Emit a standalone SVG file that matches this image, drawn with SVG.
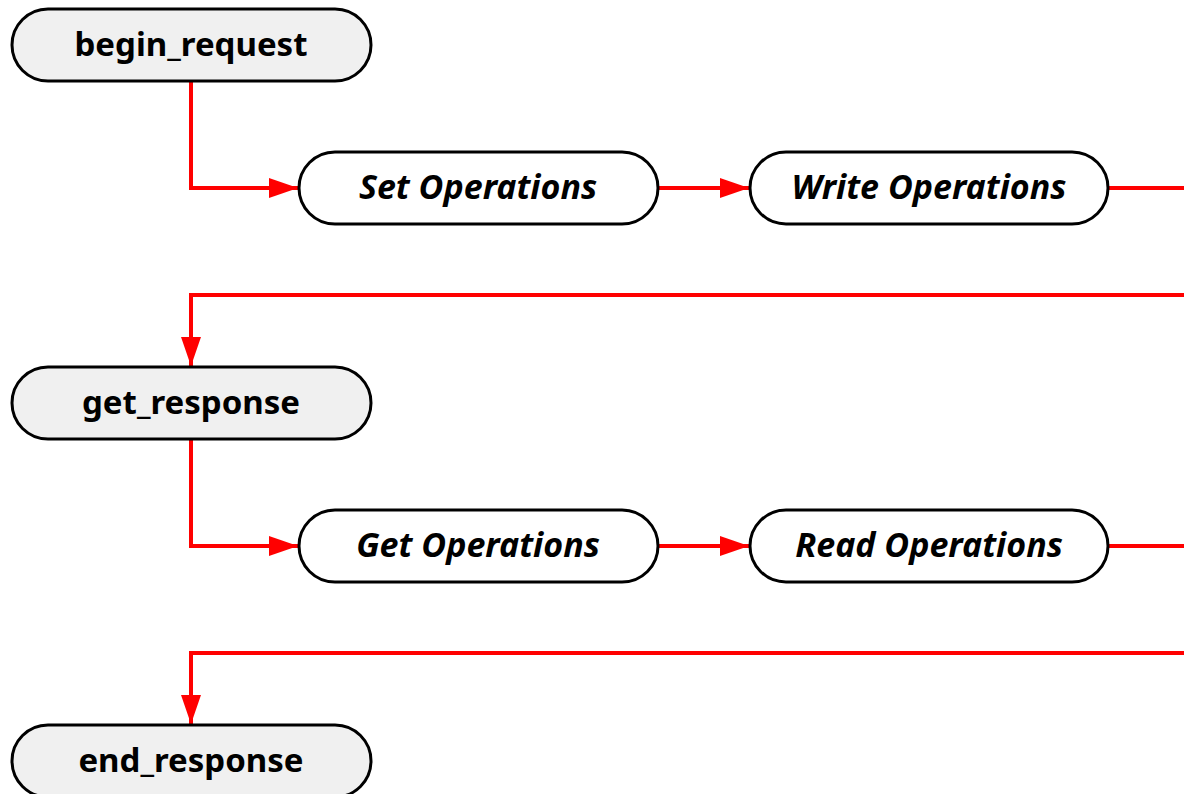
<svg xmlns="http://www.w3.org/2000/svg" width="1184" height="794" viewBox="0 0 1184 794">
<defs>
<style>
.term rect{fill:#f0f0f0;stroke:#000;stroke-width:3}
.op rect{fill:#fff;stroke:#000;stroke-width:3}
text{font-family:"Noto Sans","DejaVu Sans",sans-serif;font-weight:bold;font-size:33px;text-anchor:middle;dominant-baseline:central;fill:#000}
.op text{font-style:italic;font-size:34px}
.edge{fill:none;stroke:#ff0000;stroke-width:4}
</style>
<marker id="arr" markerWidth="29" markerHeight="20" refX="29" refY="10" orient="auto" markerUnits="userSpaceOnUse">
<path d="M0,0 L29,10 L0,20 Z" fill="#ff0000"/>
</marker>
</defs>
<g id="connectors">
<path class="edge" d="M191,81 V188 H298" marker-end="url(#arr)"/>
<path class="edge" d="M658,188 H749" marker-end="url(#arr)"/>
<path class="edge" d="M1108,188 H1184"/>
<path class="edge" d="M1184,295 H191 V366" marker-end="url(#arr)"/>
<path class="edge" d="M191,439 V546 H298" marker-end="url(#arr)"/>
<path class="edge" d="M658,546 H749" marker-end="url(#arr)"/>
<path class="edge" d="M1108,546 H1184"/>
<path class="edge" d="M1184,653 H191 V724" marker-end="url(#arr)"/>
</g>
<g id="begin_request" class="term"><rect x="12" y="9" width="359" height="72" rx="36"/><text x="191" y="43">begin_request</text></g>
<g id="set_operations" class="op"><rect x="299" y="152" width="359" height="72" rx="36"/><text x="478" y="186">Set Operations</text></g>
<g id="write_operations" class="op"><rect x="750" y="152" width="358" height="72" rx="36"/><text x="929" y="186">Write Operations</text></g>
<g id="get_response" class="term"><rect x="12" y="367" width="359" height="72" rx="36"/><text x="191" y="401">get_response</text></g>
<g id="get_operations" class="op"><rect x="299" y="510" width="359" height="72" rx="36"/><text x="478" y="544">Get Operations</text></g>
<g id="read_operations" class="op"><rect x="750" y="510" width="358" height="72" rx="36"/><text x="929" y="544">Read Operations</text></g>
<g id="end_response" class="term"><rect x="12" y="725" width="359" height="72" rx="36"/><text x="191" y="759">end_response</text></g>
</svg>
